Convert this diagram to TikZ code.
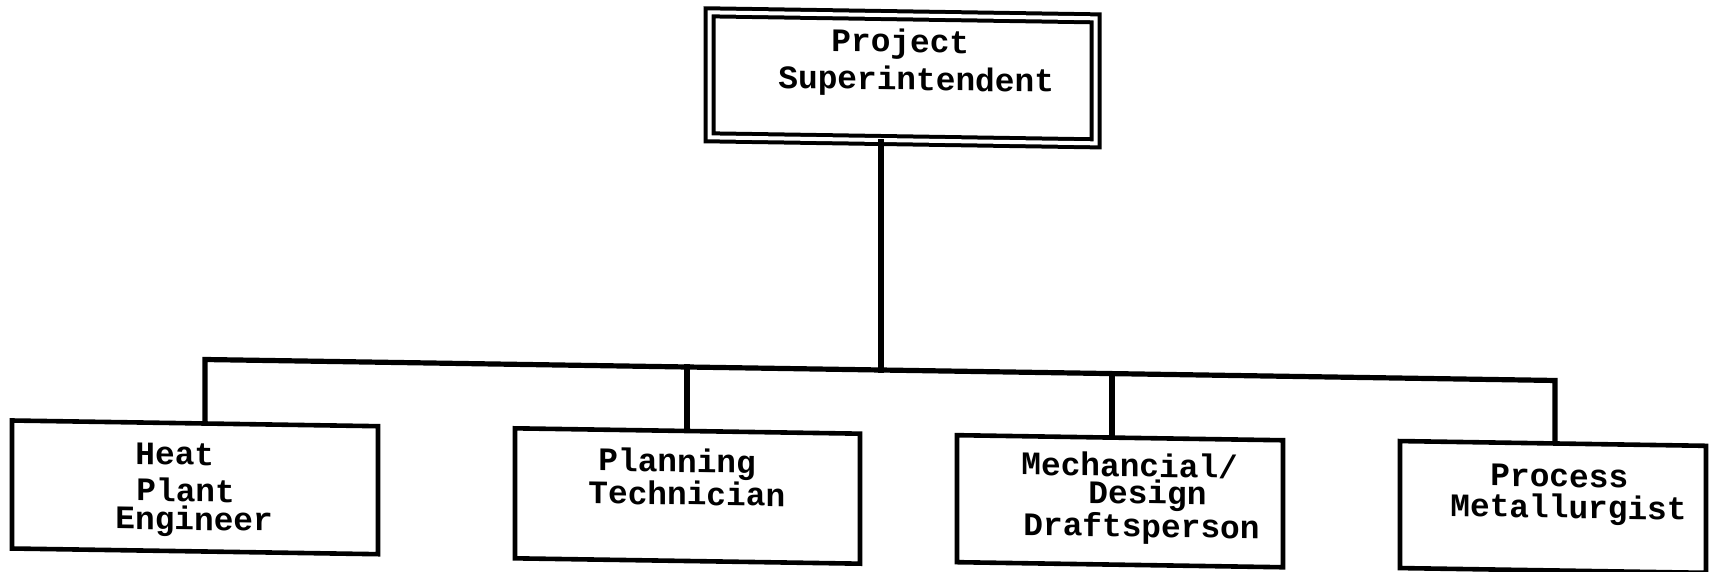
\documentclass[tikz,border=0pt]{standalone}
\usepackage{fontspec}
\setmonofont{Liberation Mono}
\tikzset{
  box/.style={draw, line width=2.3pt, inner sep=0pt},
  topbox/.style={draw, line width=2pt, double, double distance=2pt, inner sep=0pt},
  conn/.style={line width=2.6pt, line join=miter, line cap=rect},
  lbl/.style={anchor=base west, align=left, inner sep=0pt,
    font=\ttfamily\bfseries\fontsize{16.4pt}{15pt}\selectfont},
}
\begin{document}
\begin{tikzpicture}[x=0.5pt,y=-0.5pt]
\useasboundingbox[fill=white] (0,0) rectangle (1711,572);
\begin{scope}[shift={(0,-13.68)}, yslant=-0.01553, transform shape]
  % boxes
  \node[topbox, minimum width=193pt, minimum height=62.5pt] (sup) at (902.5,77.5) {};
  \node[box, minimum width=183pt, minimum height=64pt] (heat) at (195,498) {};
  \node[box, minimum width=172.5pt, minimum height=65pt] (plan) at (687.5,499) {};
  \node[box, minimum width=163pt, minimum height=63.5pt] (mech) at (1120,497.5) {};
  \node[box, minimum width=153pt, minimum height=63.5pt] (proc) at (1553,496.5) {};
  % texts (anchor = baseline of last line)
  \node[lbl] (tsup) at (778,89.6) {\hspace*{26.5pt}Project\\[2.5pt]Superintendent};
  \node[lbl] (theat) at (115,540.7) {\hspace*{10pt}Heat\\[3.35pt]\hspace*{10.5pt}Plant\\[-0.85pt]Engineer};
  \node[lbl] (tplan) at (588,508) {\hspace*{5pt}Planning\\Technician};
  \node[lbl] (tmech) at (1021,533) {Mechancial/\\[-1.5pt]\hspace*{33.5pt}Design\\\hspace*{1pt}Draftsperson};
  \node[lbl] (tproc) at (1450,507.5) {\hspace*{20pt}Process\\[0.5pt]Metallurgist};
  % bus coordinates
  \coordinate (j0) at (881,370);
  \coordinate (d1) at (205,370);
  \coordinate (d2) at (687,370);
  \coordinate (d3) at (1112,370);
  \coordinate (d4) at (1555,370);
  % connectors
  \draw[conn] (sup.south -| j0) -- (j0);
  \draw[conn] (heat.north -| d1) -- (d1) -- (d4) -- (proc.north -| d4);
  \draw[conn] (d2) -- (plan.north -| d2);
  \draw[conn] (d3) -- (mech.north -| d3);
\end{scope}
\end{tikzpicture}
\end{document}
